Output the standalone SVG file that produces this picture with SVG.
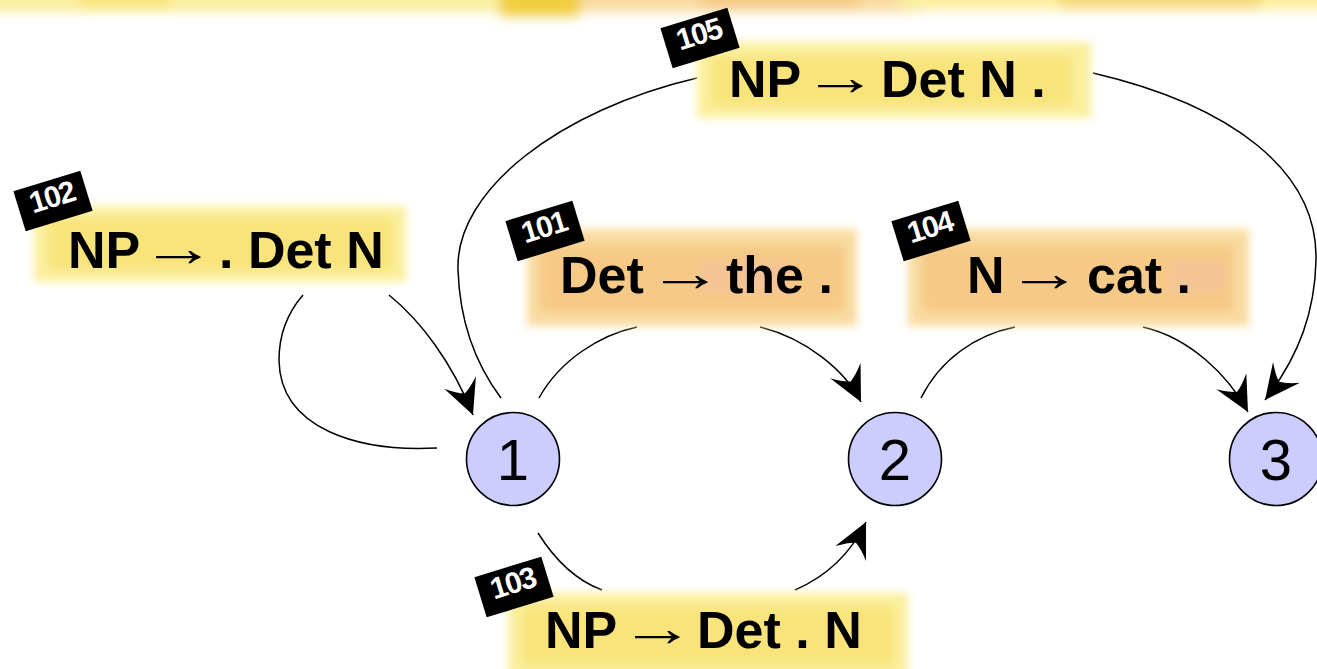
<svg xmlns="http://www.w3.org/2000/svg" width="1317" height="669" viewBox="0 0 1317 669">
  <defs>
    <style>
      .edge { fill: none; stroke: #000; stroke-width: 1.5; }
      .state { fill: #ccccff; stroke: #000; stroke-width: 1.6; }
      .state-label { font-family: "Liberation Sans", "DejaVu Sans", sans-serif; font-size: 58px; font-weight: 300; fill: #000; text-anchor: middle; }
      .item { font-family: "Liberation Sans", "DejaVu Sans", sans-serif; font-size: 52px; font-weight: bold; fill: #000; }
      .arr { font-family: "Liberation Sans", "DejaVu Sans", sans-serif; font-size: 52px; font-weight: normal; fill: #000; }
      .badge rect { fill: #000; }
      .badge text { font-family: "Liberation Sans", "DejaVu Sans", sans-serif; font-size: 30px; font-weight: bold; fill: #fff; text-anchor: middle; letter-spacing: -1.5px; }
      .hl-yellow { fill: #f8e47a; }
      .hl-yellow-soft { fill: #fbef9e; }
      .hl-orange { fill: #f6c986; }
      .hl-orange-soft { fill: #f9dba0; }
      .hl-pink { fill: #f4c2a2; }
    </style>
    <filter id="soft" x="-10%" y="-30%" width="120%" height="160%">
      <feGaussianBlur stdDeviation="4"/>
    </filter>
    <filter id="softer" x="-10%" y="-60%" width="120%" height="220%">
      <feGaussianBlur stdDeviation="6"/>
    </filter>
    <marker id="stealth" markerUnits="userSpaceOnUse" markerWidth="40" markerHeight="40" viewBox="-38 -20 40 40" refX="0" refY="0" orient="auto" overflow="visible">
      <path d="M0,0 L-35,-17 Q-26,-7 -23,0 Q-26,7 -35,17 Z" fill="#000"/>
    </marker>
  </defs>

  <rect width="1317" height="669" fill="#fff"/>

  <!-- marker strokes running along the top edge -->
  <g id="top-strip" filter="url(#softer)">
    <rect x="-20" y="-20" width="560" height="32" class="hl-yellow-soft"/>
    <rect x="80" y="-20" width="90" height="28" class="hl-yellow"/>
    <rect x="500" y="-20" width="80" height="36" fill="#f1cd3c"/>
    <rect x="580" y="-20" width="340" height="32" class="hl-orange-soft"/>
    <rect x="700" y="-20" width="160" height="28" class="hl-orange"/>
    <rect x="900" y="-20" width="430" height="30" class="hl-yellow-soft"/>
    <rect x="1060" y="-20" width="200" height="28" fill="#f5d77a"/>
  </g>

  <!-- connectors -->
  <g id="connectors">
    <!-- 1 -> 1 through item 102 -->
    <path class="edge" d="M437,448 C360,452 280,430 279,360 C279,330 290,310 303,295"/>
    <path class="edge" d="M389,295 C420,320 452,362 473,415" marker-end="url(#stealth)"/>
    <!-- 1 -> 2 through item 101 -->
    <path class="edge" d="M539,398 C560,360 600,335 637,327"/>
    <path class="edge" d="M760,327 C805,338 845,370 861,402" marker-end="url(#stealth)"/>
    <!-- 2 -> 3 through item 104 -->
    <path class="edge" d="M921,398 C940,360 975,335 1015,327"/>
    <path class="edge" d="M1143,327 C1190,338 1228,375 1248,412" marker-end="url(#stealth)"/>
    <!-- 1 -> 3 through item 105 -->
    <path class="edge" d="M697,78 C560,110 455,190 458,270 C460,330 480,370 501,398"/>
    <path class="edge" d="M1093,73 C1230,105 1318,170 1316,260 C1315,310 1300,355 1265,400" marker-end="url(#stealth)"/>
    <!-- 1 -> 2 through item 103 -->
    <path class="edge" d="M538,533 C555,560 575,580 602,590"/>
    <path class="edge" d="M795,590 C825,577 850,555 866,522" marker-end="url(#stealth)"/>
  </g>

  <!-- chart items -->
  <g id="item-105">
    <g filter="url(#soft)">
      <rect x="697" y="42" width="394" height="76" class="hl-yellow-soft"/>
      <rect x="712" y="56" width="360" height="50" class="hl-yellow"/>
    </g>
    <text class="item" x="729" y="97">NP</text>
    <text class="arr" transform="translate(803,95) scale(1.45,1)">→</text>
    <text class="item" x="881" y="97">Det N .</text>
    <g class="badge" transform="translate(700,38) rotate(-17)">
      <rect x="-35" y="-21" width="70" height="42"/>
      <text x="0" y="6">105</text>
    </g>
  </g>

  <g id="item-102">
    <g filter="url(#soft)">
      <rect x="34" y="206" width="372" height="76" class="hl-yellow-soft"/>
      <rect x="48" y="218" width="345" height="52" class="hl-yellow"/>
    </g>
    <text class="item" x="68" y="268">NP</text>
    <text class="arr" transform="translate(141,266) scale(1.45,1)">→</text>
    <text class="item" x="219" y="268">. Det N</text>
    <g class="badge" transform="translate(53,201) rotate(-17)">
      <rect x="-35" y="-21" width="70" height="42"/>
      <text x="0" y="6">102</text>
    </g>
  </g>

  <g id="item-101">
    <g filter="url(#soft)">
      <rect x="527" y="229" width="330" height="97" class="hl-orange-soft"/>
      <rect x="540" y="245" width="305" height="66" class="hl-orange"/>
      <rect x="700" y="262" width="90" height="30" class="hl-pink" opacity="0.6"/>
    </g>
    <text class="item" x="560" y="293">Det</text>
    <text class="arr" transform="translate(648,291) scale(1.45,1)">→</text>
    <text class="item" x="726" y="293">the .</text>
    <g class="badge" transform="translate(545,231) rotate(-17)">
      <rect x="-35" y="-21" width="70" height="42"/>
      <text x="0" y="6">101</text>
    </g>
  </g>

  <g id="item-104">
    <g filter="url(#soft)">
      <rect x="908" y="229" width="341" height="97" class="hl-orange-soft"/>
      <rect x="922" y="245" width="312" height="66" class="hl-orange"/>
      <rect x="1170" y="262" width="55" height="30" class="hl-pink" opacity="0.6"/>
    </g>
    <text class="item" x="967" y="293">N</text>
    <text class="arr" transform="translate(1007,291) scale(1.45,1)">→</text>
    <text class="item" x="1087" y="293">cat .</text>
    <g class="badge" transform="translate(931,231) rotate(-17)">
      <rect x="-35" y="-21" width="70" height="42"/>
      <text x="0" y="6">104</text>
    </g>
  </g>

  <g id="item-103">
    <g filter="url(#soft)">
      <rect x="508" y="593" width="400" height="90" class="hl-yellow-soft"/>
      <rect x="522" y="606" width="372" height="60" class="hl-yellow"/>
    </g>
    <text class="item" x="545" y="648">NP</text>
    <text class="arr" transform="translate(620,646) scale(1.45,1)">→</text>
    <text class="item" x="697" y="648">Det . N</text>
    <g class="badge" transform="translate(514,587) rotate(-17)">
      <rect x="-35" y="-21" width="70" height="42"/>
      <text x="0" y="6">103</text>
    </g>
  </g>

  <!-- states -->
  <g id="state-1">
    <circle class="state" cx="513" cy="459" r="46.5"/>
    <text class="state-label" x="513" y="480">1</text>
  </g>
  <g id="state-2">
    <circle class="state" cx="895" cy="459" r="46.5"/>
    <text class="state-label" x="895" y="480">2</text>
  </g>
  <g id="state-3">
    <circle class="state" cx="1276" cy="459" r="46.5"/>
    <text class="state-label" x="1276" y="480">3</text>
  </g>
</svg>
